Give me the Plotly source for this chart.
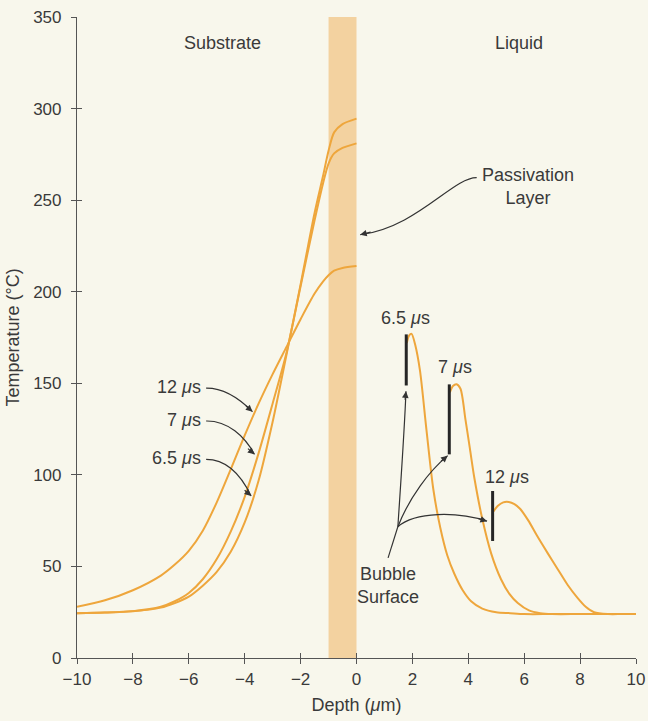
import plotly.graph_objects as go

# substrate side (depth < 0)
depth_sub = [-10, -9, -8, -7, -6.5, -6, -5.5, -5, -4.5, -4, -3.5, -3, -2.5, -2, -1.5, -1.2, -1, -0.8, -0.5, 0]
temp_sub_65 = [24.5, 24.8, 25.5, 27.5, 30, 33.5, 39.5, 47, 58, 74, 97, 129, 166, 204, 243, 263, 277, 287, 291.5, 294.5]
temp_sub_7 = [24.5, 24.8, 25.6, 28, 31, 35.5, 43, 54, 69, 88, 112, 139, 167, 203, 239, 259, 270, 275.5, 278.5, 281]
temp_sub_12 = [28, 31.5, 37, 45, 51, 58.5, 69.5, 85, 103, 121.5, 139, 155, 170, 185, 199, 205.5, 209, 211.5, 213, 214]

# liquid side, starting at the bubble surface
depth_liq_65 = [1.80, 1.88, 1.97, 2.1, 2.27, 2.5, 2.75, 3.0, 3.25, 3.5, 3.8, 4.1, 4.5, 5.0, 5.5, 6.0, 7.0, 8.5, 10]
temp_liq_65 = [172, 176, 177, 171, 157, 125, 92, 71, 56, 46, 37, 31, 27, 25, 24.5, 24, 24, 24, 24]
depth_liq_7 = [3.34, 3.45, 3.58, 3.72, 3.9, 4.06, 4.22, 4.5, 4.82, 5.17, 5.47, 5.77, 6.17, 6.57, 7.0, 8.0, 9.0, 10]
temp_liq_7 = [145, 148.5, 149.5, 147, 130, 114, 98, 76, 57, 43, 35, 30, 26, 24.5, 24, 24, 24, 24]
depth_liq_12 = [4.9, 5.05, 5.25, 5.45, 5.65, 5.85, 6.15, 6.45, 6.85, 7.2, 7.55, 7.9, 8.2, 8.5, 9.0, 9.5, 10]
temp_liq_12 = [80, 83, 85, 85.2, 84, 81.5, 75, 67, 57, 48.5, 40, 33, 28, 25, 24, 24, 24]

# bubble surface markers
bubble_x = [1.78, 3.32, 4.87]
bubble_lo = [148.8, 111.2, 63.9]
bubble_hi = [176.7, 149.4, 91.2]

passivation = [-1, 0]
x_ticks = [-10, -8, -6, -4, -2, 0, 2, 4, 6, 8, 10]
y_ticks = [0, 50, 100, 150, 200, 250, 300, 350]

ORANGE = "#eea63c"
BAND = "#f3d2a0"
INK = "#3a3a3a"
BG = "#f8f7ec"
FONT = "Liberation Sans, Arial, sans-serif"

fig = go.Figure()

fig.add_vrect(x0=passivation[0], x1=passivation[1], fillcolor=BAND, opacity=1,
              line_width=0, layer="below")

curves = [
    (depth_sub, temp_sub_12), (depth_sub, temp_sub_7), (depth_sub, temp_sub_65),
    (depth_liq_65, temp_liq_65), (depth_liq_7, temp_liq_7), (depth_liq_12, temp_liq_12),
]
for xs, ys in curves:
    fig.add_trace(go.Scatter(
        x=xs, y=ys, mode="lines",
        line=dict(color=ORANGE, width=2, shape="spline", smoothing=0.8),
        hoverinfo="skip", showlegend=False
    ))

for bx, lo, hi in zip(bubble_x, bubble_lo, bubble_hi):
    fig.add_trace(go.Scatter(
        x=[bx, bx], y=[lo, hi], mode="lines",
        line=dict(color="#262626", width=3),
        hoverinfo="skip", showlegend=False
    ))

# dummy trace so the overlay axes (inner half of the ticks) get drawn
fig.add_trace(go.Scatter(x=[None], y=[None], xaxis="x2", yaxis="y2",
                         showlegend=False, hoverinfo="skip"))

# curved leader lines
arrow_paths = [
    "M 4.3,262.3 C 3.45,262.5 2.15,235 0.13,231.1",        # passivation layer
    "M -5.38,147.4 C -4.7,147.5 -4.14,141 -3.72,134.5",    # 12 us
    "M -5.38,129.4 C -4.6,129.6 -4.0,121 -3.65,111.2",     # 7 us
    "M -5.38,108.5 C -4.6,108.5 -4.1,99 -3.77,88.5",       # 6.5 us
    "M 1.13,54.7 L 1.48,71.7",                             # bubble stem
    "M 1.48,71.7 C 1.58,95 1.72,125 1.77,145.6",
    "M 1.48,71.7 C 1.9,88 2.6,102 3.26,110.5",
    "M 1.48,71.7 C 2.1,80 3.6,80 4.67,74.7",
]
for p in arrow_paths:
    fig.add_shape(type="path", path=p, xref="x", yref="y",
                  line=dict(color="#333333", width=1.2))

heads = [
    (0.13, 231.1, 12, -3),
    (-3.72, 134.5, -8, -7),
    (-3.65, 111.2, -8, -7),
    (-3.77, 88.5, -8, -7),
    (1.77, 145.6, -1, 10),
    (3.26, 110.5, -8, 7),
    (4.67, 74.7, -10, -3),
]
for hx, hy, ax, ay in heads:
    fig.add_annotation(x=hx, y=hy, ax=ax, ay=ay, text="", showarrow=True,
                       arrowhead=2, arrowsize=1.1, arrowwidth=1.2,
                       arrowcolor="#333333", standoff=0)

labels = [
    (-4.79, 336, "Substrate", "center"),
    (5.81, 335.7, "Liquid", "center"),
    (6.12, 257.6, "Passivation<br>Layer", "center"),
    (1.77, 185.4, "6.5 <i>μ</i>s", "center"),
    (3.52, 158.7, "7 <i>μ</i>s", "center"),
    (5.40, 98.7, "12 <i>μ</i>s", "center"),
    (1.11, 39.7, "Bubble<br>Surface", "center"),
    (-5.49, 148.1, "12 <i>μ</i>s", "right"),
    (-5.49, 130.0, "7 <i>μ</i>s", "right"),
    (-5.49, 109.3, "6.5 <i>μ</i>s", "right"),
]
for lx, ly, txt, anchor in labels:
    fig.add_annotation(x=lx, y=ly, text=txt, showarrow=False, xanchor=anchor,
                       font=dict(family=FONT, size=18, color=INK))

axis_common = dict(
    showline=True, linecolor="#555555", linewidth=1.2, automargin=False,
    showgrid=False, zeroline=False, type="linear",
    ticks="outside", ticklen=5, tickwidth=1.2, tickcolor="#555555",
    tickfont=dict(family=FONT, size=17, color=INK),
)
overlay_common = dict(
    type="linear", ticks="inside", ticklen=5, tickwidth=1.2, tickcolor="#555555",
    showticklabels=False, showline=False, showgrid=False, zeroline=False,
    automargin=False,
)

fig.update_layout(
    width=648, height=721,
    margin=dict(l=77, r=12, t=17, b=63),
    paper_bgcolor=BG, plot_bgcolor=BG,
    font=dict(family=FONT, color=INK),
    xaxis=dict(axis_common, range=[-10, 10], tickvals=x_ticks,
               title=dict(text="Depth (<i>μ</i>m)", standoff=10,
                          font=dict(family=FONT, size=18, color=INK))),
    yaxis=dict(axis_common, range=[0, 350], tickvals=y_ticks, ticklabelstandoff=6,
               title=dict(text="Temperature (°C)", standoff=8,
                          font=dict(family=FONT, size=18, color=INK))),
    xaxis2=dict(overlay_common, overlaying="x", matches="x", anchor="y",
                side="bottom", tickvals=x_ticks),
    yaxis2=dict(overlay_common, overlaying="y", matches="y", anchor="x",
                side="left", tickvals=y_ticks),
)

fig.write_html(
    "out.html",
    config={"displayModeBar": False},
    post_script="document.body.style.margin='0';document.body.style.overflow='hidden';"
                "document.body.style.background='" + BG + "';",
)
